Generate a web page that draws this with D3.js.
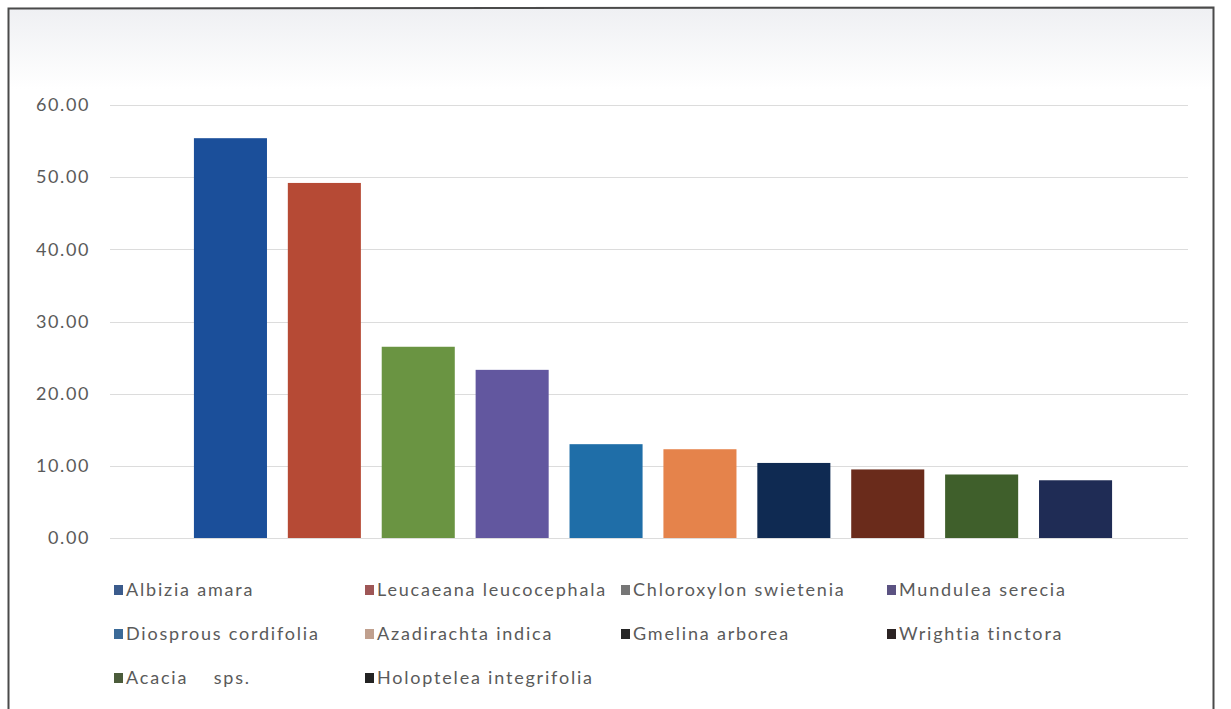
<!DOCTYPE html>
<html>
<head>
<meta charset="utf-8">
<script src="https://cdn.jsdelivr.net/npm/d3@7"></script>
<style>
  html, body { margin: 0; padding: 0; background: #ffffff; }
  svg { display: block; }
</style>
</head>
<body>
<svg id="chart" width="1231" height="709"></svg>
<script>
// Species and their values
const species = [
  "Albizia amara", "Leucaeana leucocephala", "Chloroxylon swietenia", "Mundulea serecia",
  "Diosprous cordifolia", "Azadirachta indica", "Gmelina arborea", "Wrightia tinctora",
  "Acacia    sps.", "Holoptelea integrifolia"
];
const values = [55.4, 49.2, 26.5, 23.3, 13.0, 12.3, 10.4, 9.5, 8.8, 8.0];
const barColors = [
  "#1b4f9a", "#b64a35", "#6a9442", "#62579f", "#1f6ea8",
  "#e5834b", "#0f2a52", "#6a2b1b", "#3f5f2b", "#1f2c55"
];
const swatchColors = [
  "#3b5b8c", "#9e5656", "#767676", "#5b5282", "#3b6a98",
  "#c0a08e", "#252525", "#2b2324", "#4b5c3b", "#232323"
];
const yTicks = [0, 10, 20, 30, 40, 50, 60];

const svg = d3.select("#chart");

// soft haze along the top of the frame
const defs = svg.append("defs");
const grad = defs.append("linearGradient").attr("id", "haze")
  .attr("x1", 0).attr("y1", 0).attr("x2", 0).attr("y2", 1);
grad.append("stop").attr("offset", 0).attr("stop-color", "#eff0f3");
grad.append("stop").attr("offset", 1).attr("stop-color", "#ffffff");
svg.append("rect").attr("x", 9).attr("y", 9).attr("width", 1204).attr("height", 80)
  .attr("fill", "url(#haze)");

// frame
svg.append("path")
  .attr("d", "M8.5,709 L8.5,8.5 L1213.5,7.5 L1213.5,709")
  .attr("fill", "none").attr("stroke", "#4a4a4a").attr("stroke-width", 2);

const y = d3.scaleLinear().domain([0, 60]).range([538, 105]);
const x = d3.scaleBand().domain(species).range([183.5, 1122.5]).paddingInner(0.222).paddingOuter(0.111);

// gridlines
svg.append("g").selectAll("line").data(yTicks).join("line")
  .attr("x1", 110).attr("x2", 1188)
  .attr("y1", d => Math.round(y(d)) + 0.5).attr("y2", d => Math.round(y(d)) + 0.5)
  .attr("stroke", "#dcdcdc").attr("stroke-width", 1);

// y axis labels
const yAxis = d3.axisLeft(y).tickValues(yTicks).tickSize(0).tickPadding(0)
  .tickFormat(d3.format(".2f"));
const yg = svg.append("g").attr("transform", "translate(90,0)").call(yAxis);
yg.select(".domain").remove();
yg.selectAll("text")
  .attr("fill", "#5a5a5a")
  .style("font-family", "Lato, 'Open Sans', sans-serif")
  .style("font-size", "18px")
  .style("letter-spacing", "1.6px");

// bars
svg.append("g").selectAll("rect").data(species).join("rect")
  .attr("x", d => x(d))
  .attr("width", x.bandwidth())
  .attr("y", (d, i) => y(values[i]))
  .attr("height", (d, i) => y(0) - y(values[i]))
  .attr("fill", (d, i) => barColors[i]);

// legend, 4 columns x 3 rows
const colX = [114, 365, 621, 887];
const rowY = [590, 634, 678];
const leg = svg.append("g").selectAll("g").data(species).join("g")
  .attr("transform", (d, i) => `translate(${colX[i % 4]},${rowY[Math.floor(i / 4)]})`);
leg.append("rect").attr("x", 0).attr("y", -5).attr("width", 9).attr("height", 10)
  .attr("fill", (d, i) => swatchColors[i]);
leg.append("text").attr("x", 12).attr("y", 0).attr("dy", "0.35em")
  .attr("fill", "#5a5a5a")
  .attr("xml:space", "preserve")
  .style("white-space", "pre")
  .style("font-family", "Lato, 'Open Sans', sans-serif")
  .style("font-size", "18px")
  .style("letter-spacing", "1.8px")
  .text(d => d);
</script>
</body>
</html>
